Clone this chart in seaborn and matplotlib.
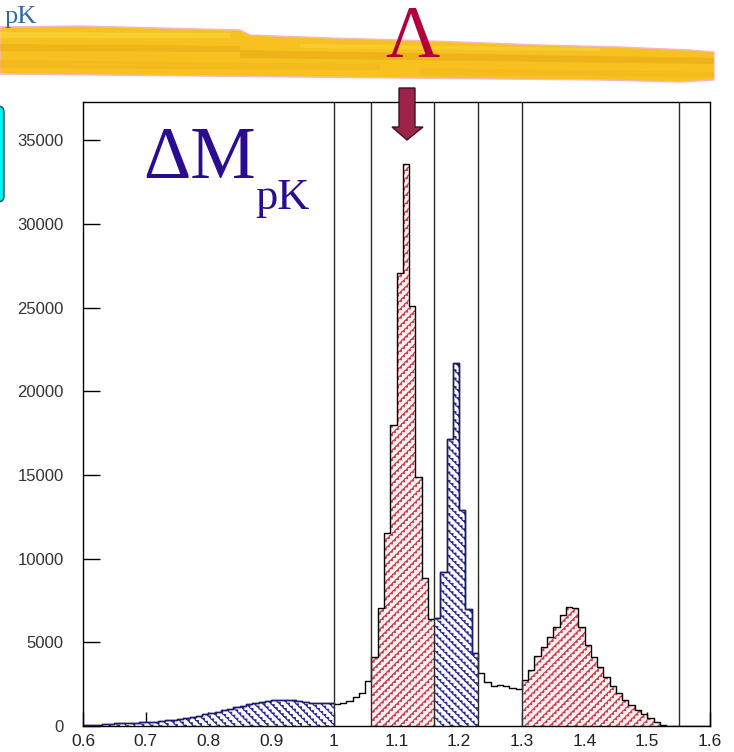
import warnings
import numpy as np
import pandas as pd
import matplotlib
matplotlib.use("Agg")
import matplotlib.pyplot as plt
import seaborn as sns
from matplotlib import hatch as mhatch
from matplotlib.path import Path
from matplotlib.patches import Polygon, FancyBboxPatch
from matplotlib.transforms import IdentityTransform
from matplotlib.ticker import MultipleLocator

warnings.filterwarnings("ignore")

# ---------------------------------------------------------------- data
bin_lo, bin_hi, n_bins = 0.60, 1.60, 100
counts = [
    30, 60, 80, 110, 130, 160, 170, 190, 200, 220,            # 0.60-0.69
    240, 260, 300, 340, 380, 430, 480, 540, 610, 690,         # 0.70-0.79
    780, 860, 950, 1040, 1130, 1220, 1300, 1380, 1450, 1500,  # 0.80-0.89
    1530, 1550, 1560, 1550, 1510, 1450, 1400, 1380, 1370, 1360,  # 0.90-0.99
    1340, 1350, 1480, 1750, 1950, 2700, 4140, 7070, 11560, 17990,  # 1.00-1.09
    27040, 33550, 25085, 14870, 8870, 6370, 6430, 9200, 17120, 21660,  # 1.10-1.19
    12900, 6970, 4380, 3150, 2650, 2400, 2450, 2400, 2250, 2200,  # 1.20-1.29
    2750, 3340, 4200, 4740, 5340, 5930, 6630, 7090, 7030, 5930,  # 1.30-1.39
    4840, 4140, 3500, 2950, 2400, 1950, 1550, 1250, 950, 700,   # 1.40-1.49
    450, 250, 80, 0, 0, 0, 0, 0, 0, 0,                          # 1.50-1.59
]
blue_ranges = [(0.60, 1.00), (1.16, 1.23)]
red_ranges = [(1.06, 1.16), (1.30, 1.53)]
cut_lines = [1.00, 1.06, 1.16, 1.23, 1.30, 1.55]
xticks = [0.6, 0.7, 0.8, 0.9, 1.0, 1.1, 1.2, 1.3, 1.4, 1.5, 1.6]
xtick_labels = ["0.6", "0.7", "0.8", "0.9", "1", "1.1", "1.2", "1.3", "1.4", "1.5", "1.6"]
yticks = [0, 5000, 10000, 15000, 20000, 25000, 30000, 35000]
ymax = 37300

edges = np.round(np.linspace(bin_lo, bin_hi, n_bins + 1), 4)
centers = (edges[:-1] + edges[1:]) / 2
df = pd.DataFrame({"mass": centers, "count": counts})


# ------------------------------------------------- staircase hatch fills
class _StairHatch(mhatch.HatchPatternBase):
    """Staircase lines tiled across the hatch cell."""
    char = "r"
    direction = 1
    steps = 33

    def __init__(self, hatch, density):
        n = hatch.count(self.char)
        self.n = n
        if n:
            self.offsets = np.arange(-n, n + 1) / n
            self.per_line = 1 + 2 * (self.steps + 3)
            self.num_vertices = len(self.offsets) * self.per_line
        else:
            self.num_vertices = 0

    def set_vertices_and_codes(self, vertices, codes):
        s = 1.0 / self.steps
        phase = s / 2
        rows = []
        cds = []
        for c in self.offsets:
            ks = np.arange(-2, self.steps + 2)
            xs = ks * s + phase
            if self.direction > 0:
                ys = xs + c
            else:
                ys = -xs + c + 1
            pts = [(xs[0], ys[0])]
            for i in range(len(xs) - 1):
                pts.append((xs[i + 1], ys[i]))
                pts.append((xs[i + 1], ys[i + 1]))
            pts = pts[: self.per_line]
            rows.extend(pts)
            cds.extend([Path.MOVETO] + [Path.LINETO] * (len(pts) - 1))
        vertices[:] = np.array(rows)
        codes[:] = np.array(cds)


class _StairUp(_StairHatch):
    char = "r"
    direction = 1
    steps = 33


class _StairDown(_StairHatch):
    char = "b"
    direction = -1
    steps = 33


mhatch._hatch_types.extend([_StairUp, _StairDown])
plt.rcParams["hatch.linewidth"] = 0.6

# ---------------------------------------------------------------- figure
sns.set_theme(style="white")
plt.rcParams["font.family"] = ["Liberation Sans", "DejaVu Sans"]

W, H = 734, 752
fig = plt.figure(figsize=(W / 100, H / 100), dpi=100)
fig.patch.set_facecolor("white")


def px(x, y):
    """Top-left pixel position to display coordinates."""
    return (x, H - y)


ax = fig.add_axes([83 / W, 1 - 726 / H, (710 - 83) / W, (726 - 101.7) / H])
ax.set_facecolor("white")


def region(lo, hi):
    m = (df["mass"] > lo) & (df["mass"] < hi)
    e = [float(v) for v in edges if lo - 1e-9 <= v <= hi + 1e-9]
    return df[m], e


# hatched sub-ranges
for lo, hi in blue_ranges:
    sub, e = region(lo, hi)
    sns.histplot(data=sub, x="mass", weights="count", bins=e, element="step",
                 fill=True, facecolor="white", edgecolor="#23238f",
                 linewidth=0, hatch="b" * 12, alpha=1, ax=ax)
for lo, hi in red_ranges:
    sub, e = region(lo, hi)
    sns.histplot(data=sub, x="mass", weights="count", bins=e, element="step",
                 fill=True, facecolor="#fdeef0", edgecolor="#c03a48",
                 linewidth=0, hatch="r" * 12, alpha=1, ax=ax)

# full spectrum outline
sns.histplot(data=df, x="mass", weights="count", bins=[float(v) for v in edges],
             element="step", fill=False, color="black", linewidth=1.0, ax=ax)
for lo, hi in blue_ranges:
    sub, e = region(lo, hi)
    sns.histplot(data=sub, x="mass", weights="count", bins=e, element="step",
                 fill=False, color="#1a1a78", linewidth=1.0, ax=ax)

for xc in cut_lines:
    ax.axvline(xc, color="#2a2a2a", linewidth=1.0, zorder=3)

ax.set_xlim(bin_lo, bin_hi)
ax.set_ylim(0, ymax)
ax.set_xlabel("")
ax.set_ylabel("")
ax.set_xticks(xticks)
ax.set_xticklabels(xtick_labels)
ax.set_yticks(yticks)
ax.xaxis.set_minor_locator(MultipleLocator(0.025))
ax.yaxis.set_minor_locator(MultipleLocator(2500))
ax.tick_params(axis="x", which="major", direction="in", length=10, width=1,
               color="black", labelsize=12.5, labelcolor="#222222", pad=6)
ax.tick_params(axis="x", which="minor", direction="in", length=5, width=1,
               color="black")
ax.tick_params(axis="y", which="major", direction="in", length=12, width=1,
               color="black", labelsize=12, labelcolor="#333333", pad=14)
ax.tick_params(axis="y", which="minor", direction="in", length=7, width=1,
               color="black")
ax.tick_params(bottom=True, left=True, top=False, right=False)
for sp in ax.spines.values():
    sp.set_color("black")
    sp.set_linewidth(1.0)

# ------------------------------------------------------------ decorations
T = IdentityTransform()

# yellow brush banner
top_edge = [(0, 27), (80, 26), (160, 28), (240, 30), (250, 35), (330, 38),
            (400, 40), (460, 42), (540, 45), (620, 47), (690, 50), (714, 52)]
bot_edge = [(714, 80), (680, 82), (600, 80), (500, 79), (400, 78),
            (300, 77), (200, 76), (100, 75), (0, 74)]
fig.patches.append(Polygon([px(*p) for p in top_edge + bot_edge], closed=True,
                           facecolor="#f7c21f", edgecolor="#f6b6c2",
                           linewidth=1.0, transform=T, figure=fig))
streaks = [
    ([(0, 44), (240, 46), (240, 52), (0, 51)], "#e9ab18", 0.6),
    ([(240, 50), (714, 58), (714, 64), (240, 58)], "#e6a515", 0.5),
    ([(0, 60), (380, 64), (380, 70), (0, 68)], "#f0b51c", 0.6),
    ([(0, 32), (230, 33), (230, 38), (0, 38)], "#fad43c", 0.7),
    ([(300, 44), (600, 48), (600, 51), (300, 48)], "#fad43c", 0.6),
    ([(420, 68), (714, 72), (714, 77), (420, 75)], "#f2b71d", 0.6),
]
for pts, col, a in streaks:
    fig.patches.append(Polygon([px(*p) for p in pts], closed=True,
                               facecolor=col, edgecolor="none", alpha=a,
                               transform=T, figure=fig))

# cyan tab on the left edge
fig.patches.append(FancyBboxPatch(px(-30, 202), 34, 96,
                                  boxstyle="round,pad=0,rounding_size=6",
                                  facecolor="#00f0f0", edgecolor="#1e4b50",
                                  linewidth=1.0, transform=T, figure=fig))

# arrow marking the Lambda peak
arrow = [(399, 88), (415, 88), (415, 127), (423, 127), (407, 140),
         (392, 127), (399, 127)]
fig.patches.append(Polygon([px(*p) for p in arrow], closed=True,
                           facecolor="#9b2448", edgecolor="#3b1322",
                           linewidth=1.0, transform=T, figure=fig))

serif = ["Liberation Serif", "DejaVu Serif"]
fig.text(5 / W, 1 - 23 / H, "pK", family=serif, fontsize=19,
         color="#2f6aa3", va="baseline", ha="left")
fig.text(412 / W, 1 - 57 / H, "\u039b", family=serif, fontsize=54,
         color="#b3003b", va="baseline", ha="center")
fig.text(143 / W, 1 - 178 / H, "\u0394M", family=serif, fontsize=53,
         color="#2b0b8f", va="baseline", ha="left")
fig.text(255 / W, 1 - 209 / H, "pK", family=serif, fontsize=32,
         color="#2b0b8f", va="baseline", ha="left")

fig.savefig("out.png", dpi=100)
